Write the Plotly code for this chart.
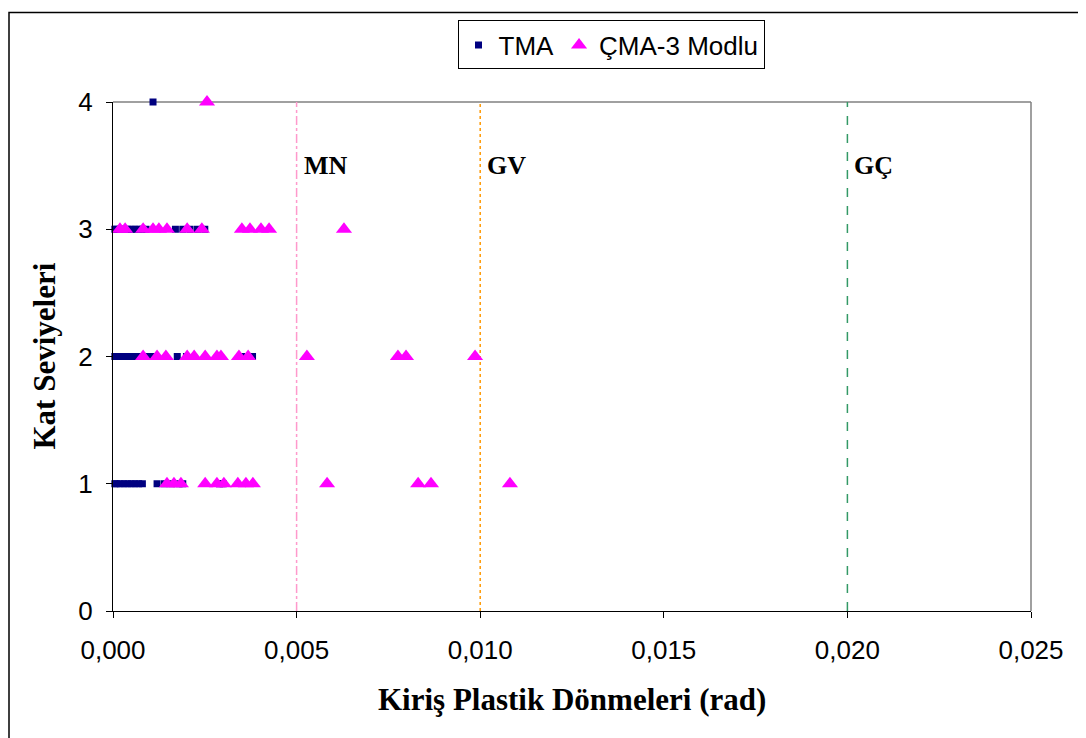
import plotly.graph_objects as go

# TMA points (rotation, storey)
tma_x1 = [0.00005, 0.0001, 0.0002, 0.0003, 0.0004, 0.0005, 0.0006, 0.0007, 0.0008,
          0.0012, 0.0014, 0.0016, 0.0018, 0.0019, 0.0029, 0.0030]
tma_x2 = [0.00005, 0.0001, 0.0002, 0.0003, 0.0004, 0.0005, 0.0006, 0.0007, 0.0008,
          0.0009, 0.0010, 0.0011, 0.00175, 0.0020, 0.0035, 0.0038]
tma_x3 = [0.00005, 0.0001, 0.0002, 0.0003, 0.0004, 0.0005, 0.0006, 0.0007, 0.0008,
          0.0009, 0.0017, 0.0019, 0.0021, 0.0023, 0.0025]
tma_x4 = [0.00109]

cma_x1 = [0.00147, 0.00166, 0.00185, 0.00251, 0.00283, 0.00302, 0.00340, 0.00362,
          0.00381, 0.00583, 0.00831, 0.00866, 0.01081]
cma_x2 = [0.00082, 0.00120, 0.00144, 0.00202, 0.00221, 0.00251, 0.00283, 0.00294,
          0.00343, 0.00368, 0.00528, 0.00776, 0.00798, 0.00986]
cma_x3 = [0.00019, 0.00033, 0.00082, 0.00109, 0.00125, 0.00147, 0.00202, 0.00242,
          0.00351, 0.00373, 0.00403, 0.00425, 0.00629]
cma_x4 = [0.00256]

limit_names = ["MN", "GV", "GÇ"]
limit_values = [0.005, 0.010, 0.020]
limit_colors = ["#FF99CC", "#FF9900", "#339966"]
limit_dash = ["dashdot", "dot", "dash"]

x_ticks = [0.000, 0.005, 0.010, 0.015, 0.020, 0.025]
y_ticks = [0, 1, 2, 3, 4]

tma_x = tma_x1 + tma_x2 + tma_x3 + tma_x4
tma_y = [1] * len(tma_x1) + [2] * len(tma_x2) + [3] * len(tma_x3) + [4] * len(tma_x4)
cma_x = cma_x1 + cma_x2 + cma_x3 + cma_x4
cma_y = [1] * len(cma_x1) + [2] * len(cma_x2) + [3] * len(cma_x3) + [4] * len(cma_x4)

SERIF = "Liberation Serif, Times New Roman, serif"
SANS = "Liberation Sans, Arial, sans-serif"

# plot area in screen pixels (page body has 8px margin)
PL, PR, PT, PB = 113, 1031, 99, 611
W, H = PR - PL, PB - PT

def px(xs):
    return (xs - PL) / W

def py(ys):
    return (PB - ys) / H

fig = go.Figure()

for name, v, c, d in zip(limit_names, limit_values, limit_colors, limit_dash):
    fig.add_trace(go.Scatter(x=[v, v], y=[0, 4], mode="lines", showlegend=False,
                             line=dict(color=c, dash=d, width=1.5), hoverinfo="skip"))
    fig.add_annotation(x=v, y=3.5, text="<b>" + name + "</b>", showarrow=False,
                       xanchor="left", xshift=5, yanchor="middle",
                       font=dict(family=SERIF, size=26, color="black"))

fig.add_trace(go.Scatter(x=tma_x, y=tma_y, mode="markers", name="TMA", cliponaxis=False,
                         marker=dict(symbol="square", size=7, color="#000080")))
fig.add_trace(go.Scatter(x=cma_x, y=cma_y, mode="markers", name="ÇMA-3 Modlu", cliponaxis=False,
                         marker=dict(symbol="triangle-up", size=14, color="#FF00FF")))

# outer frame
fig.add_shape(type="rect", xref="paper", yref="paper",
              x0=px(9), x1=px(1200), y0=py(900), y1=py(9),
              line=dict(color="black", width=1.5), layer="below")

# axis titles
fig.add_annotation(x=px(572), y=py(700), xref="paper", yref="paper", showarrow=False,
                   text="<b>Kiriş Plastik Dönmeleri (rad)</b>", xanchor="center", yanchor="middle",
                   font=dict(family=SERIF, size=31, color="black"))
fig.add_annotation(x=px(44), y=py(355), xref="paper", yref="paper", showarrow=False,
                   text="<b>Kat Seviyeleri</b>", textangle=-90, xanchor="center", yanchor="middle",
                   font=dict(family=SERIF, size=31, color="black"))

fig.update_layout(
    width=1086, height=738,
    margin=dict(l=PL - 8, r=1086 - (PR - 8), t=PT - 8, b=738 - (PB - 8)),
    paper_bgcolor="white", plot_bgcolor="white",
    separators=",.",
    font=dict(family=SANS, size=26, color="black"),
    legend=dict(orientation="h", x=px(611), xanchor="center", y=py(17), yanchor="top",
                bordercolor="black", borderwidth=1, font=dict(size=26),
                itemsizing="trace", tracegroupgap=0, itemwidth=30,
                traceorder="normal"),
    xaxis=dict(range=[0, 0.025], tickvals=x_ticks, tickformat=".3f",
               showgrid=False, zeroline=False, showline=True, linecolor="black", linewidth=1,
               ticks="outside", ticklen=6, tickcolor="black", ticklabelstandoff=10),
    yaxis=dict(range=[0, 4], tickvals=y_ticks, showgrid=False, zeroline=False,
               showline=True, linecolor="black", linewidth=1,
               ticks="outside", ticklen=6, tickcolor="black", ticklabelstandoff=8),
)
# gray top/right border
fig.add_shape(type="line", xref="paper", yref="paper", x0=0, x1=1, y0=1, y1=1,
              line=dict(color="#808080", width=1.5), layer="below")
fig.add_shape(type="line", xref="paper", yref="paper", x0=1, x1=1, y0=0, y1=1,
              line=dict(color="#808080", width=1.5), layer="below")

fig.write_html("out.html")
